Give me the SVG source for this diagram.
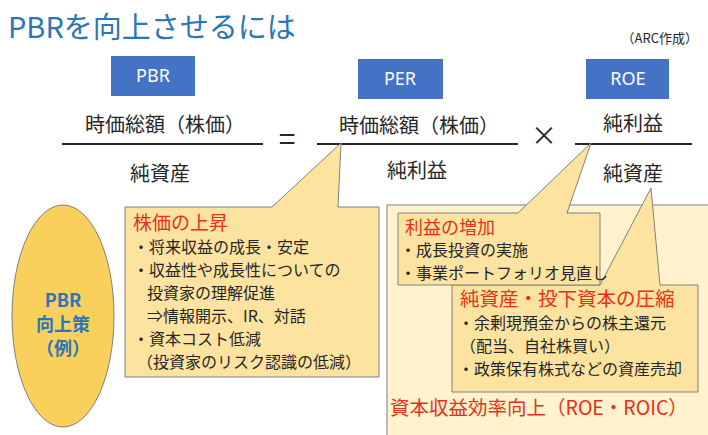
<svg xmlns="http://www.w3.org/2000/svg" width="708" height="435" viewBox="0 0 708 435">
<style>
  text { font-family: "Noto Sans CJK JP", "Noto Sans", sans-serif; }
  .hdr { fill: #4472c4; }
  .hdrt { fill: #ffffff; font-size: 18px; text-anchor: middle; font-family: "Noto Sans", "Liberation Sans", sans-serif; }
  .frac { fill: #262626; font-size: 20px; text-anchor: middle; }
  .fline { stroke: #262626; stroke-width: 2; }
  .call { fill: #fde3a0; stroke: #808080; stroke-width: 1; }
  .red { fill: #e4301c; }
  .body { fill: #262626; font-size: 16px; }
</style>
<rect width="708" height="435" fill="#ffffff"/>

<g id="title">
  <text x="8" y="38" font-size="29" fill="#2e75b6">PBRを向上させるには</text>
  <text x="698" y="43" font-size="13" fill="#262626" text-anchor="end">（ARC作成）</text>
</g>

<g id="pbr">
  <rect class="hdr" x="111" y="56" width="84" height="40"/>
  <text class="hdrt" x="153" y="82">PBR</text>
  <text class="frac" x="165" y="132">時価総額（株価）</text>
  <line class="fline" x1="62" y1="144" x2="263" y2="144"/>
  <text class="frac" x="160" y="181">純資産</text>
</g>

<g id="ops">
  <text x="287" y="150" font-size="30" fill="#262626" text-anchor="middle" font-family="Liberation Sans, sans-serif">=</text>
  <text x="544" y="145" font-size="26" fill="#262626" text-anchor="middle" font-family="Liberation Sans, sans-serif">×</text>
</g>

<g id="per">
  <rect class="hdr" x="358" y="59" width="85" height="40"/>
  <text class="hdrt" x="400" y="85">PER</text>
  <text class="frac" x="419" y="133">時価総額（株価）</text>
  <line class="fline" x1="317" y1="144" x2="518" y2="144"/>
  <text class="frac" x="417" y="178">純利益</text>
</g>

<g id="roe">
  <rect class="hdr" x="586" y="59" width="83" height="40"/>
  <text class="hdrt" x="628" y="85">ROE</text>
  <text class="frac" x="633" y="131">純利益</text>
  <line class="fline" x1="575" y1="144" x2="692" y2="144"/>
  <text class="frac" x="633" y="181">純資産</text>
</g>

<g id="measures">
  <ellipse cx="63" cy="316" rx="51" ry="111" fill="#f9d05c" stroke="#808080" stroke-width="1"/>
  <g font-size="18" font-weight="bold" fill="#2e75b6" text-anchor="middle">
    <text x="63" y="307" font-family="Noto Sans, sans-serif">PBR</text>
    <text x="63" y="331">向上策</text>
    <text x="63" y="355">（例）</text>
  </g>
</g>

<g id="efficiency">
  <rect x="387" y="205" width="340" height="250" fill="#fff2cc" stroke="#808080" stroke-width="1"/>
  <text class="red" x="390" y="415" font-size="19.5">資本収益効率向上（ROE・ROIC）</text>
</g>

<g id="callout-price">
  <path class="call" d="M125,207 H272 L341,143 L338,207 H379 V377 H125 Z"/>
  <text class="red" x="133" y="230" font-size="19">株価の上昇</text>
  <text class="body" x="133" y="253">・将来収益の成長・安定</text>
  <text class="body" x="133" y="276">・収益性や成長性についての</text>
  <text class="body" x="147" y="299">投資家の理解促進</text>
  <text class="body" x="147" y="322">⇒情報開示、IR、対話</text>
  <text class="body" x="133" y="345">・資本コスト低減</text>
  <text class="body" x="137" y="368">（投資家のリスク認識の低減）</text>
</g>

<g id="callout-assets">
  <path class="call" d="M452,285 H600 L651,188 L660,285 H698 V392 H452 Z"/>
  <text class="red" x="460" y="306" font-size="19.5">純資産・投下資本の圧縮</text>
  <text class="body" x="458" y="329" font-size="17">・余剰現預金からの株主還元</text>
  <text class="body" x="460" y="352" font-size="17">（配当、自社株買い）</text>
  <text class="body" x="458" y="375" font-size="17">・政策保有株式などの資産売却</text>
</g>

<g id="callout-profit">
  <path class="call" d="M398,213 H518 L591,143 L567,213 H600 V285 H398 Z"/>
  <text class="red" x="405" y="234" font-size="18">利益の増加</text>
  <text class="body" x="400" y="256" font-size="15.5">・成長投資の実施</text>
  <text class="body" x="400" y="279" font-size="15">・事業ポートフォリオ見直し</text>
</g>
</svg>
